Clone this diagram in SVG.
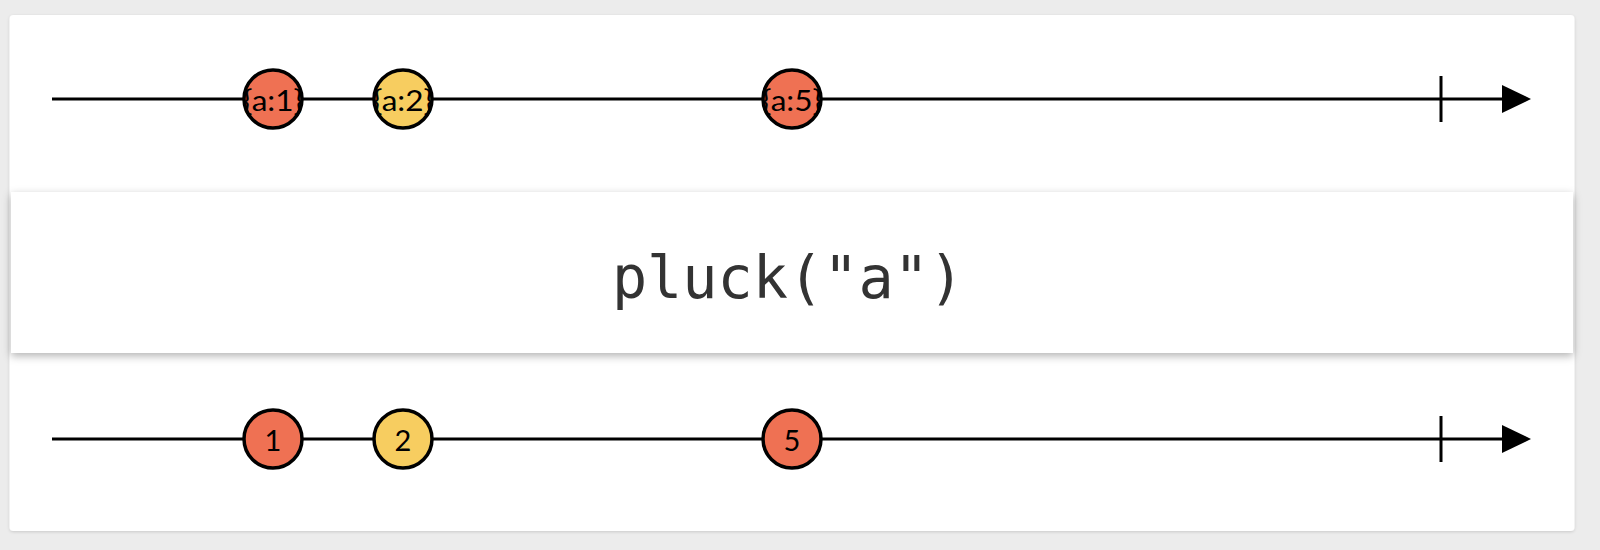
<svg xmlns="http://www.w3.org/2000/svg" width="1600" height="550" viewBox="0 0 1600 550">
<defs>
<style>
.line{stroke:#000;stroke-width:3;fill:none}
.tick{stroke:#000;stroke-width:3}
.head{fill:#000}
.m circle{stroke:#000;stroke-width:3.5}
.red{fill:#ef7153}
.yel{fill:#f7cd60}
.lbl{font-family:"Source Sans Pro","Lato","Noto Sans",sans-serif;font-size:29px;fill:#000;text-anchor:middle;dominant-baseline:central}
.num{font-family:"Source Sans Pro","Lato","Noto Sans",sans-serif;font-size:29px;fill:#000;text-anchor:middle;dominant-baseline:central}
.op{font-family:"DejaVu Sans Mono","Liberation Mono",monospace;font-size:58.5px;fill:#333;text-anchor:middle}
</style>
<filter id="sh" x="-5%" y="-20%" width="110%" height="140%">
<feDropShadow dx="0" dy="3" stdDeviation="4" flood-color="#000" flood-opacity="0.3"/>
</filter>
<filter id="psh" x="-2%" y="-2%" width="104%" height="104%">
<feDropShadow dx="0" dy="1" stdDeviation="1.5" flood-color="#000" flood-opacity="0.15"/>
</filter>
</defs>
<rect width="1600" height="550" fill="#ececec"/>
<rect x="9.5" y="15" width="1565" height="516" rx="4" fill="#fff" filter="url(#psh)"/>
<g id="connectors">
<line class="line" x1="52" y1="99" x2="1505" y2="99"/>
<line class="tick" x1="1441" y1="76" x2="1441" y2="122"/>
<polygon class="head" points="1502,85 1531,99 1502,113"/>
<line class="line" x1="52" y1="439" x2="1505" y2="439"/>
<line class="tick" x1="1441" y1="416" x2="1441" y2="462"/>
<polygon class="head" points="1502,425 1531,439 1502,453"/>
</g>
<g id="in1" class="m"><circle class="red" cx="273" cy="99" r="29"/><text class="lbl" x="273" y="99" textLength="60" lengthAdjust="spacingAndGlyphs">{a:1}</text></g>
<g id="in2" class="m"><circle class="yel" cx="403" cy="99" r="29"/><text class="lbl" x="403" y="99" textLength="60" lengthAdjust="spacingAndGlyphs">{a:2}</text></g>
<g id="in5" class="m"><circle class="red" cx="792" cy="99" r="29"/><text class="lbl" x="792" y="99" textLength="60" lengthAdjust="spacingAndGlyphs">{a:5}</text></g>
<g id="operator">
<rect x="11" y="192" width="1562" height="161" fill="#fff" filter="url(#sh)"/>
<text class="op" x="788" y="298">pluck("a")</text>
</g>
<g id="out1" class="m"><circle class="red" cx="273" cy="439" r="29"/><text class="num" x="273" y="439">1</text></g>
<g id="out2" class="m"><circle class="yel" cx="403" cy="439" r="29"/><text class="num" x="403" y="439">2</text></g>
<g id="out5" class="m"><circle class="red" cx="792" cy="439" r="29"/><text class="num" x="792" y="439">5</text></g>
</svg>
